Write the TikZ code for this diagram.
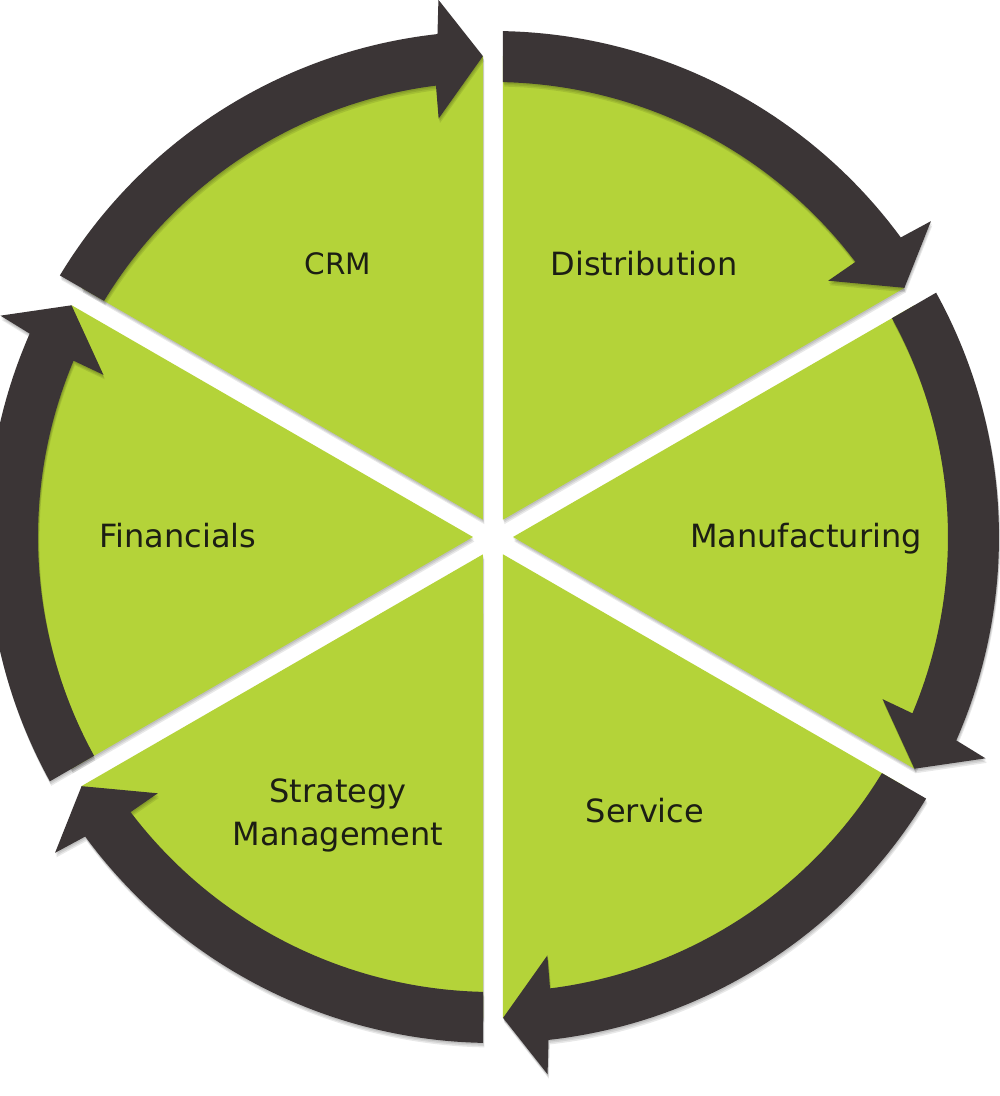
\documentclass[tikz,border=0pt]{standalone}
\usepackage{fontspec}
\setmainfont{DejaVu Sans}
\definecolor{leaf}{RGB}{180,211,57}
\definecolor{ring}{RGB}{59,53,54}
\definecolor{ink}{RGB}{28,30,20}
\begin{document}
\begin{tikzpicture}[x=1pt,y=1pt,
  sector/.style={fill=leaf},
  sectorshadow/.style={fill=black,opacity=0.09},
  arrowband/.style={fill=ring},
  label/.style={font=\fontsize{32}{43}\selectfont, text=ink, align=center, inner sep=0pt}]
\useasboundingbox (-493,-559) rectangle (507,537);
\fill[white] (-493,-559) rectangle (507,537);
% soft shadows of the sectors
\foreach \m in {60,0,-60,-120,180,120}{
  \foreach \sh in {1.5,3,4.5}{
    \fill[sectorshadow,shift={({0.3*\sh},{-\sh})}] (\m:20pt) -- ({\m+28.81}:481pt)
      arc[start angle={\m+28.81}, end angle={\m-28.81}, radius=481pt] -- cycle;
  }
}
% green sectors
\foreach \m in {60,0,-60,-120,180,120}{
  \fill[sector] (\m:20pt) -- ({\m+28.81}:481pt)
    arc[start angle={\m+28.81}, end angle={\m-28.81}, radius=481pt] -- cycle;
}
% shadows of the arrows
\foreach \a/\b in {90/30,30/-30,-30/-90,-90/-150,-150/-210,150/90}{
  \foreach \sh in {1.5,3,4.5}{
    \fill[sectorshadow,shift={({0.3*\sh},{-\sh})}] ({\a-1.13}:506pt)
      arc[start angle={\a-1.13}, end angle={\b+6.3}, radius=506pt]
      -- ({\b+5.8}:540pt) -- ({\b+1.2}:481pt) -- ({\b+7.4}:422pt) -- ({\b+7.2}:455pt)
      arc[start angle={\b+7.2}, end angle={\a-1.26}, radius=455pt] -- cycle;
  }
}
% curved arrows
\foreach \a/\b in {90/30,30/-30,-30/-90,-90/-150,-150/-210,150/90}{
  \fill[arrowband] ({\a-1.13}:506pt)
    arc[start angle={\a-1.13}, end angle={\b+6.3}, radius=506pt]
    -- ({\b+5.8}:540pt) -- ({\b+1.2}:481pt) -- ({\b+7.4}:422pt) -- ({\b+7.2}:455pt)
    arc[start angle={\b+7.2}, end angle={\a-1.26}, radius=455pt] -- cycle;
}
% labels
\node[label,anchor=base,font=\fontsize{29.5}{34}\selectfont] (crm) at (-155,263) {CRM};
\node[label,anchor=base] (dist) at (151,262) {Distribution};
\node[label,anchor=base] (manu) at (313,-10) {Manufacturing};
\node[label,anchor=base] (serv) at (152,-285) {Service};
\node[label] (strat) at (-155,-278) {Strategy\\Management};
\node[label,anchor=base] (fin) at (-315,-10) {Financials};
\end{tikzpicture}
\end{document}
